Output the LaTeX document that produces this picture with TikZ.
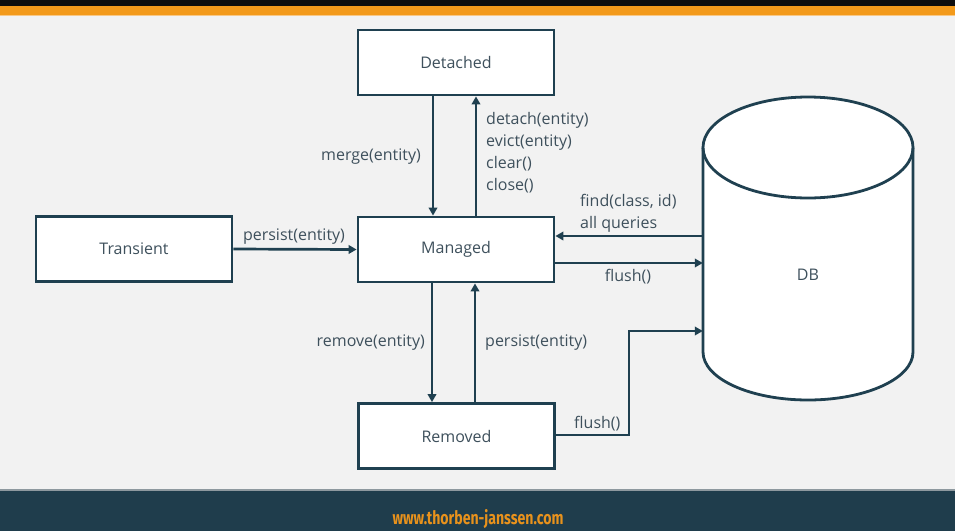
\documentclass[tikz,border=0pt]{standalone}
\usepackage{fontspec}
\setmainfont{Open Sans}
\newfontfamily\urlfont{Fira Sans}
\usetikzlibrary{arrows.meta,calc}
\definecolor{bg}{HTML}{F2F2F2}
\definecolor{ln}{HTML}{1F4050}
\definecolor{tx}{HTML}{3E505C}
\definecolor{topblack}{HTML}{0E0E0E}
\definecolor{orng}{HTML}{F39A1B}
\definecolor{orlight}{HTML}{F8C887}
\definecolor{foot}{HTML}{1F3D4C}
\definecolor{footline}{HTML}{8E999F}
\definecolor{urlc}{HTML}{E8921C}
\tikzset{
  statebox/.style={draw=ln, line width=2.8pt, fill=white, minimum width=196pt, minimum height=65pt, inner sep=0pt, text=tx, font=\fontsize{16}{18}\selectfont},
  arr/.style={draw=ln, line width=2.7pt, -{Triangle[length=8pt,width=8.5pt]}},
  lbl/.style={text=tx, font=\fontsize{16}{22}\selectfont, inner sep=0pt, align=left}
}
\begin{document}
\begin{tikzpicture}[x=1pt,y=-1pt]
\useasboundingbox (0,0) rectangle (955,531);
% background and bars
\fill[bg] (0,0) rectangle (955,531);
\fill[topblack] (0,0) rectangle (955,6);
\fill[orng] (0,6) rectangle (955,14.5);
\fill[orlight] (0,14.5) rectangle (955,15.5);
\fill[foot] (0,490) rectangle (955,531);
\fill[footline] (0,489) rectangle (955,490.5);
\node[text=urlc, inner sep=0pt] (url) at (478,519) {\resizebox{171pt}{\height}{\urlfont\fontsize{18.5}{20}\selectfont\bfseries www.thorben-janssen.com}};

% states
\node[statebox] (Detached) at (456,62.5) {Detached};
\node[statebox] (Managed) at (456,249.5) {Managed};
\node[statebox] (Transient) at (134,249) {Transient};
\node[statebox] (Removed) at (456.5,436) {Removed};

% DB cylinder
\fill[white] (703,147.5) -- (703,352) arc[start angle=180, end angle=360, x radius=105, y radius=-48] -- (913,147.5) arc[start angle=0, end angle=180, x radius=105, y radius=-50.5] -- cycle;
\draw[ln, line width=2.8pt] (703,147.5) -- (703,352) arc[start angle=180, end angle=360, x radius=105, y radius=-48] -- (913,147.5);
\draw[ln, line width=2.8pt] (808,147.5) ellipse[x radius=105, y radius=50.5];
\node[minimum width=210pt, minimum height=303pt, inner sep=0pt] (DBbody) at (808,248.5) {};
\node[text=tx, font=\fontsize{16}{18}\selectfont, inner sep=0pt] (DB) at (808,275) {DB};

% connectors
\draw[arr] (Transient.east) -- (Managed.west);
\draw[arr] ([xshift=-23pt]Detached.south) -- ([xshift=-23pt]Managed.north);
\draw[arr] ([xshift=20pt]Managed.north) -- ([xshift=20pt]Detached.south);
\draw[arr] ([xshift=-24pt]Managed.south) -- ([xshift=-24.5pt]Removed.north);
\draw[arr] ([xshift=18.5pt]Removed.north) -- ([xshift=19pt]Managed.south);
\coordinate (fA) at ([yshift=13.5pt]Managed.east);
\coordinate (fB) at ([yshift=-13.5pt]Managed.east);
\draw[arr] (fA -| DBbody.west) -- (fA);
\draw[arr] (fB) -- (fB -| DBbody.west);
\coordinate (bend) at (629,331);
\draw[arr] ([yshift=1pt]Removed.east) -| (bend) -- (bend -| DBbody.west);

% labels
\node[lbl, anchor=east] (lmerge) at (421,157) {merge(entity)};
\node[lbl, anchor=west] (ldetach) at (486,153) {detach(entity)\\evict(entity)\\clear()\\close()};
\node[lbl] (lpersist1) at (294,237) {persist(entity)};
\node[lbl, anchor=east] (lremove) at (425,343) {remove(entity)};
\node[lbl, anchor=west] (lpersist2) at (485,343) {persist(entity)};
\node[lbl, anchor=west] (lflush2) at (574,424) {flush()};
\node[lbl, anchor=west] (lfind) at (580,213) {find(class, id)\\all queries};
\node[lbl] (lflush1) at (628,277) {flush()};
\end{tikzpicture}
\end{document}
